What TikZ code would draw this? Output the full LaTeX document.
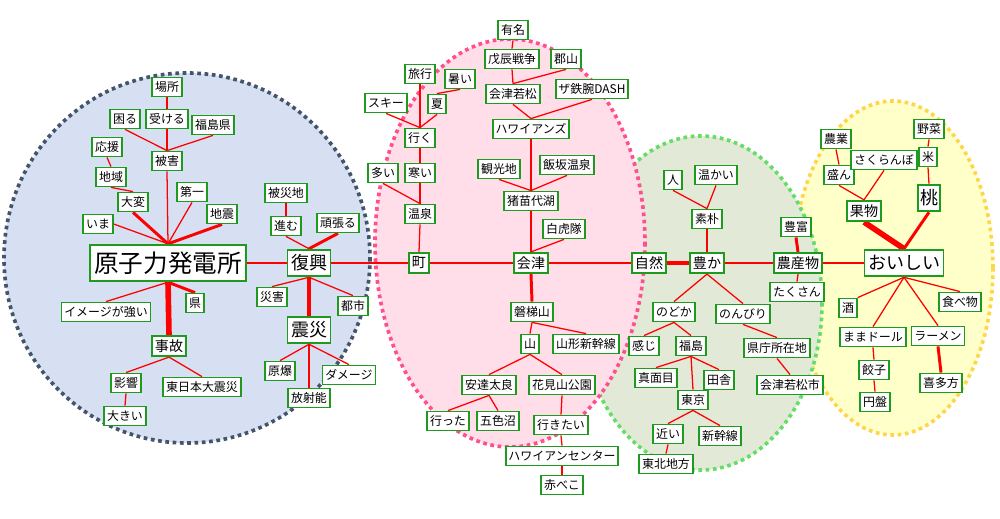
\documentclass[tikz,border=0pt]{standalone}
\usepackage{fontspec}
\newfontfamily\jpfont{Noto Sans CJK JP}
\usetikzlibrary{backgrounds}
\definecolor{boxgreen}{HTML}{1E9A1E}
\definecolor{linkred}{HTML}{FF0000}
\definecolor{areablue}{HTML}{D6E0F2}
\definecolor{dotblue}{HTML}{44546A}
\definecolor{areapink}{HTML}{FFDDE9}
\definecolor{dotpink}{HTML}{FF4F8C}
\definecolor{areagreen}{HTML}{E2EAD7}
\definecolor{dotgreen}{HTML}{66DD66}
\definecolor{areayellow}{HTML}{FFFFCA}
\definecolor{dotyellow}{HTML}{FFD54A}

\begin{document}
\begin{tikzpicture}[x=0.025cm, y=-0.025cm,
  word/.style={draw=boxgreen, fill=white, line width=1.3pt,
               inner xsep=2pt, inner ysep=1.5pt, minimum height=13.5pt,
               font=\jpfont\fontsize{8.5}{9}\selectfont},
  spine/.style={word, minimum height=14.5pt,
                font=\jpfont\fontsize{10}{11}\selectfont},
  midword/.style={word, minimum height=19pt, inner xsep=2.5pt,
                  font=\jpfont\fontsize{12.8}{14}\selectfont},
  bigword/.style={word, minimum height=26pt, inner xsep=3pt,
                  font=\jpfont\fontsize{17.5}{19}\selectfont},
  link/.style={linkred, line width=0.9pt},
  thicklink/.style={linkred, line width=2.1pt},
  thickerlink/.style={linkred, line width=2.9pt},
  heavylink/.style={linkred, line width=4pt},
  area/.style={line width=2.6pt, dash pattern=on 2.6pt off 2.6pt},
]
  \useasboundingbox (0,0) rectangle (1000,519);

  %% Topic areas
  \begin{scope}[on background layer]
    \draw[area, fill=areayellow, draw=dotyellow] (893,268) ellipse [x radius=100, y radius=167];
    \draw[area, fill=areagreen, draw=dotgreen] (701,303) ellipse [x radius=121, y radius=167];
    \draw[area, fill=areablue, draw=dotblue] (187,258) ellipse [x radius=183, y radius=185];
    \draw[area, fill=areapink, draw=dotpink] (510,243) ellipse [x radius=135, y radius=204];
  \end{scope}

  %% Blue area
  \node[bigword] (genpatsu) at (168,263) {原子力発電所};
  \node[word] (basho) at (167,87) {場所};
  \node[word] (komaru) at (125,119) {困る};
  \node[word] (ukeru) at (167,119) {受ける};
  \node[word] (fukushimaken) at (213,125) {福島県};
  \node[word] (higai) at (167,161) {被害};
  \node[word] (ouen) at (107,147) {応援};
  \node[word] (chiiki) at (111,177) {地域};
  \node[word] (daiichi) at (192,192) {第一};
  \node[word] (taihen) at (133,202) {大変};
  \node[word] (jishin) at (222,214) {地震};
  \node[word] (ima) at (98,224) {いま};
  \node[word] (imagestrong) at (106,312) {イメージが強い};
  \node[word] (ken) at (195,303) {県};
  \node[spine] (jiko) at (169,346) {事故};
  \node[word] (eikyo) at (126,383) {影響};
  \node[word] (higashinihon) at (202,387) {東日本大震災};
  \node[word] (ookii) at (125,416) {大きい};

  \node[midword] (fukko) at (309,263) {復興};
  \node[word] (hisaichi) at (286,193) {被災地};
  \node[word] (susumu) at (286,226) {進む};
  \node[word] (ganbaru) at (338,223) {頑張る};
  \node[word] (saigai) at (272,297) {災害};
  \node[word] (toshi) at (353,306) {都市};
  \node[midword] (shinsai) at (309,330) {震災};
  \node[word] (genbaku) at (280,371) {原爆};
  \node[word] (damage) at (349,375) {ダメージ};
  \node[word] (hoshano) at (309,398) {放射能};

  %% Pink area
  \node[spine] (machi) at (419,263) {町};
  \node[word] (onsen) at (420,214) {温泉};
  \node[word] (samui) at (420,173) {寒い};
  \node[word] (ooi) at (383,173) {多い};
  \node[word] (iku) at (420,138) {行く};
  \node[word] (ski) at (386,103) {スキー};
  \node[word] (natsu) at (437,104) {夏};
  \node[word] (atsui) at (460,79) {暑い};
  \node[word] (ryoko) at (420,74) {旅行};

  \node[spine] (aizu) at (531,263) {会津};
  \node[word] (byakkotai) at (564,229) {白虎隊};
  \node[word] (inawashiro) at (531,201) {猪苗代湖};
  \node[word] (kankochi) at (499,169) {観光地};
  \node[word] (iizaka) at (567,165) {飯坂温泉};
  \node[word] (hawaiians) at (531,129) {ハワイアンズ};
  \node[word] (aizuwakamatsu) at (513,94) {会津若松};
  \node[word] (dash) at (592,89) {ザ鉄腕DASH};
  \node[word] (boshin) at (512,59) {戊辰戦争};
  \node[word] (koriyama) at (566,59) {郡山};
  \node[word] (yumei) at (513,30) {有名};
  \node[word] (bandai) at (532,312) {磐梯山};
  \node[word] (yama) at (530,344) {山};
  \node[word] (yamagata) at (586,344) {山形新幹線};
  \node[word] (adatara) at (489,385) {安達太良};
  \node[word] (hanamiyama) at (562,385) {花見山公園};
  \node[word] (itta) at (448,421) {行った};
  \node[word] (goshiki) at (498,421) {五色沼};
  \node[word] (ikitai) at (561,425) {行きたい};
  \node[word] (hcenter) at (562,456) {ハワイアンセンター};
  \node[word] (akabeko) at (562,485) {赤べこ};

  %% Green area
  \node[spine] (shizen) at (649,263) {自然};
  \node[spine] (yutaka) at (707,263) {豊か};
  \node[word] (soboku) at (707,219) {素朴};
  \node[word] (hito) at (673,180) {人};
  \node[word] (atatakai) at (716,175) {温かい};
  \node[word] (nodoka) at (674,312) {のどか};
  \node[word] (nonbiri) at (743,314) {のんびり};
  \node[word] (kanji) at (644,346) {感じ};
  \node[word] (fukushima) at (691,346) {福島};
  \node[word] (majime) at (656,378) {真面目};
  \node[word] (inaka) at (719,380) {田舎};
  \node[word] (tokyo) at (693,400) {東京};
  \node[word] (chikai) at (668,434) {近い};
  \node[word] (shinkansen) at (720,436) {新幹線};
  \node[word] (tohoku) at (666,464) {東北地方};
  \node[word] (kencho) at (777,348) {県庁所在地};
  \node[word] (wakamatsushi) at (790,385) {会津若松市};
  \node[spine] (nosanbutsu) at (798,263) {農産物};
  \node[word] (hofu) at (796,227) {豊富};
  \node[word] (takusan) at (797,292) {たくさん};

  %% Yellow area
  \node[midword] (oishii) at (904,263) {おいしい};
  \node[spine] (kudamono) at (864,211) {果物};
  \node[midword, inner xsep=1.5pt] (momo) at (929,198) {桃};
  \node[word] (kome) at (928,157) {米};
  \node[word] (yasai) at (929,129) {野菜};
  \node[word] (nogyo) at (836,139) {農業};
  \node[word] (sakan) at (839,175) {盛ん};
  \node[word] (sakuranbo) at (884,160) {さくらんぼ};
  \node[word] (sake) at (848,308) {酒};
  \node[word] (mamadoru) at (873,337) {ままドール};
  \node[word] (ramen) at (938,336) {ラーメン};
  \node[word] (tabemono) at (960,302) {食べ物};
  \node[word] (gyoza) at (874,370) {餃子};
  \node[word] (enban) at (875,402) {円盤};
  \node[word] (kitakata) at (941,383) {喜多方};

  %% Connectors
  \begin{scope}[on background layer]
    \draw[link] (basho.south) -- (ukeru.north);
    \draw[thicklink] (ukeru.south) -- (higai.north);
    \draw[link] (komaru.south) -- (higai.north);
    \draw[link] (fukushimaken.south) -- (higai.north);
    \draw[link] (higai.south) -- (genpatsu.north);
    \draw[link] (ouen.south) -- (chiiki.north);
    \draw[link] (chiiki.south) -- (taihen.north);
    \draw[thicklink] (taihen.south) -- (genpatsu.north);
    \draw[link] (daiichi.south) -- (genpatsu.north);
    \draw[thicklink] (jishin.south) -- (genpatsu.north);
    \draw[link] (ima.east) -- (genpatsu.north);
    \draw[link] (genpatsu.south) -- (imagestrong.north);
    \draw[thicklink] (genpatsu.south) -- (ken.north);
    \draw[heavylink] (genpatsu.south) -- (jiko.north);
    \draw[link] (jiko.south) -- (eikyo.north);
    \draw[link] (jiko.south) -- (higashinihon.north);
    \draw[link] (eikyo.south) -- (ookii.north);
    \draw[thicklink] (genpatsu.east) -- (fukko.west);

    \draw[link] (hisaichi.south) -- (susumu.north);
    \draw[link] (susumu.south) -- (fukko.north);
    \draw[thicklink] (ganbaru.south) -- (fukko.north);
    \draw[link] (fukko.south) -- (saigai.north);
    \draw[link] (fukko.south) -- (toshi.north);
    \draw[thickerlink] (fukko.south) -- (shinsai.north);
    \draw[link] (shinsai.south) -- (genbaku.north);
    \draw[link] (shinsai.south) -- (damage.north);
    \draw[link] (shinsai.south) -- (hoshano.north);
    \draw[link] (fukko.east) -- (machi.west);

    \draw[link] (machi.north) -- (onsen.south);
    \draw[link] (onsen.north) -- (samui.south);
    \draw[link] (ooi.south) -- (onsen.north);
    \draw[link] (samui.north) -- (iku.south);
    \draw[link] (iku.north) -- (ryoko.south);
    \draw[link] (ski.south) -- (iku.north);
    \draw[link] (natsu.south) -- (iku.north);
    \draw[link] (atsui.south) -- (natsu.north);
    \draw[link] (machi.east) -- (aizu.west);

    \draw[thicklink] (aizu.north) -- (inawashiro.south);
    \draw[link] (byakkotai.south) -- (aizu.north);
    \draw[link] (inawashiro.north) -- (kankochi.south);
    \draw[link] (inawashiro.north) -- (iizaka.south);
    \draw[link] (inawashiro.north) -- (hawaiians.south);
    \draw[link] (hawaiians.north) -- (aizuwakamatsu.south);
    \draw[link] (hawaiians.north) -- (dash.south);
    \draw[link] (aizuwakamatsu.north) -- (boshin.south);
    \draw[link] (aizuwakamatsu.north) -- (koriyama.south);
    \draw[link] (boshin.north) -- (yumei.south);
    \draw[thicklink] (aizu.south) -- (bandai.north);
    \draw[link] (bandai.south) -- (yama.north);
    \draw[link] (bandai.south) -- (yamagata.north);
    \draw[link] (yama.south) -- (adatara.north);
    \draw[link] (yama.south) -- (hanamiyama.north);
    \draw[link] (adatara.south) -- (itta.north);
    \draw[link] (adatara.south) -- (goshiki.north);
    \draw[link] (hanamiyama.south) -- (ikitai.north);
    \draw[link] (ikitai.south) -- (hcenter.north);
    \draw[link] (hcenter.south) -- (akabeko.north);
    \draw[link] (aizu.east) -- (shizen.west);

    \draw[thickerlink] (shizen.east) -- (yutaka.west);
    \draw[link] (yutaka.north) -- (soboku.south);
    \draw[link] (soboku.north) -- (hito.south);
    \draw[link] (soboku.north) -- (atatakai.south);
    \draw[link] (yutaka.south) -- (nodoka.north);
    \draw[link] (yutaka.south) -- (nonbiri.north);
    \draw[link] (nodoka.south) -- (kanji.north);
    \draw[link] (nodoka.south) -- (fukushima.north);
    \draw[link] (fukushima.south) -- (majime.north);
    \draw[link] (fukushima.south) -- (inaka.north);
    \draw[link] (fukushima.south) -- (tokyo.north);
    \draw[link] (tokyo.south) -- (chikai.north);
    \draw[link] (tokyo.south) -- (shinkansen.north);
    \draw[link] (chikai.south) -- (tohoku.north);
    \draw[link] (nonbiri.south) -- (kencho.north);
    \draw[link] (kencho.south) -- (wakamatsushi.north);
    \draw[thicklink] (yutaka.east) -- (nosanbutsu.west);
    \draw[thicklink] (nosanbutsu.north) -- (hofu.south);
    \draw[link] (nosanbutsu.south) -- (takusan.north);
    \draw[link] (nosanbutsu.east) -- (oishii.west);

    \draw[heavylink] (oishii.north) -- (kudamono.south);
    \draw[thicklink] (oishii.north) -- (momo.south);
    \draw[link] (momo.north) -- (kome.south);
    \draw[link] (kome.north) -- (yasai.south);
    \draw[link] (kudamono.north) -- (sakan.south);
    \draw[link] (kudamono.north) -- (sakuranbo.south);
    \draw[link] (sakan.north) -- (nogyo.south);
    \draw[link] (oishii.south) -- (sake.north east);
    \draw[link] (oishii.south) -- (mamadoru.north);
    \draw[link] (oishii.south) -- (ramen.north);
    \draw[link] (oishii.south) -- (tabemono.north);
    \draw[link] (mamadoru.south) -- (gyoza.north);
    \draw[link] (gyoza.south) -- (enban.north);
    \draw[thicklink] (ramen.south) -- (kitakata.north);
  \end{scope}
\end{tikzpicture}
\end{document}
